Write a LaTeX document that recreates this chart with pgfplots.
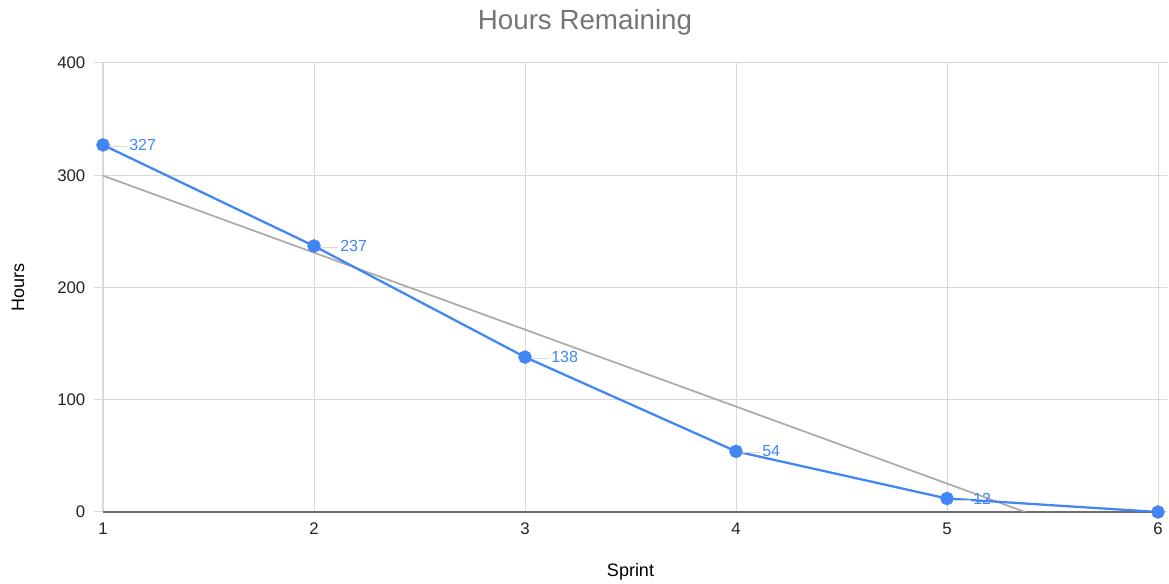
\documentclass[border=0pt]{standalone}
\usepackage{pgfplots}
\pgfplotsset{compat=1.18}
\usepackage{fontspec}
\setmainfont{Liberation Sans}
\definecolor{gblue}{HTML}{4285F4}
\definecolor{gridc}{HTML}{D9D9D9}
\definecolor{trendc}{HTML}{ABABAB}
\definecolor{titlec}{HTML}{757575}
\definecolor{basec}{HTML}{6E6E6E}
\definecolor{tickc}{HTML}{222222}
\begin{document}
\begin{tikzpicture}
\useasboundingbox (-77.25pt,-54pt) rectangle (799.5pt,384pt);
\begin{axis}[
  at={(0,0)}, anchor=south west,
  scale only axis,
  width=791.25pt, height=336.75pt,
  xmin=1, xmax=6, ymin=0, ymax=400,
  xtick={1,2,3,4,5,6},
  ytick={0,100,200,300,400},
  grid=major,
  grid style={gridc, line width=0.75pt},
  axis line style={draw=none},
  xtick style={draw=none},
  ytick style={draw=gridc, line width=0.75pt},
  tick align=outside,
  major tick length=6.75pt,
  extra y ticks={0},
  extra y tick labels={},
  extra y tick style={grid style={basec, line width=1.1pt}, tick style={draw=basec, line width=1.1pt}},
  tick label style={font=\fontsize{12.6pt}{14pt}\selectfont, text=tickc},
  yticklabel style={xshift=-3pt},
  xticklabel style={yshift=2pt},
  /pgf/number format/assume math mode=true,
  title={Hours Remaining},
  title style={at={(axis description cs:0.4569,1.0735)}, anchor=center, font=\fontsize{20.8pt}{24pt}\selectfont, text=titlec},
  xlabel={Sprint},
  ylabel={Hours},
  xlabel style={at={(axis description cs:0.5,-0.1336)}, anchor=center, font=\fontsize{13.5pt}{16pt}\selectfont},
  ylabel style={at={(axis description cs:-0.0806,0.5)}, anchor=center, font=\fontsize{13.5pt}{16pt}\selectfont},
  clip marker paths=false,
]
\addplot[trendc, line width=1.3pt, forget plot] coordinates {(1,299.6) (5.37,0)};
\addplot[gblue, line width=1.7pt, mark=*, mark size=4.2pt, mark options={fill=gblue, draw=gblue}] coordinates {
(1,327) (2,237) (3,138) (4,54) (5,12) (6,0)};
\addplot[draw=none, mark=none,
  nodes near coords={\raisebox{0.45ex}{\color{gridc}\rule{14pt}{0.6pt}}\hspace{1.5pt}\pgfmathprintnumber{\pgfplotspointmeta}},
  nodes near coords style={anchor=west, xshift=4pt, yshift=0pt, text=gblue, font=\fontsize{12pt}{14pt}\selectfont, inner sep=0pt},
  point meta=explicit] coordinates {
(1,327) [327] (2,237) [237] (3,138) [138] (4,54) [54] (5,12) [12]};
\end{axis}
\end{tikzpicture}
\end{document}
